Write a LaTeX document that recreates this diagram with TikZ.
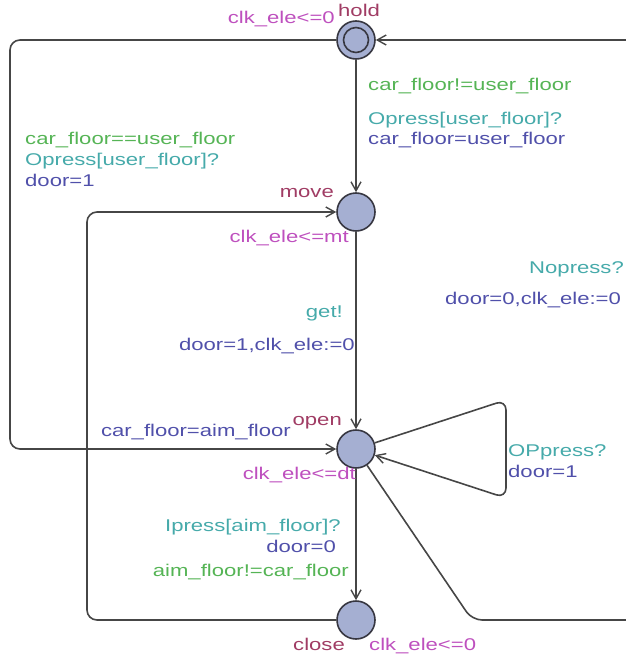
\documentclass[tikz,border=0pt]{standalone}
\usepackage{fontspec}
\setmainfont[FakeStretch=1.3]{Liberation Sans}
\usetikzlibrary{arrows.meta}
\definecolor{gcol}{RGB}{85,180,85}
\definecolor{scol}{RGB}{70,170,170}
\definecolor{ucol}{RGB}{80,80,170}
\definecolor{icol}{RGB}{190,80,190}
\definecolor{ncol}{RGB}{160,60,100}
\definecolor{lfill}{RGB}{165,175,210}
\definecolor{lborder}{RGB}{55,55,65}
\definecolor{ecol}{RGB}{70,70,70}
\tikzset{
  loc/.style={circle,draw=lborder,fill=lfill,line width=1.6pt,minimum size=38pt,inner sep=0pt},
  edge/.style={draw=ecol,line width=1.6pt,rounded corners=10pt,-{Straight Barb[length=9pt,width=10pt,line width=1.4pt]}},
  lbl/.style={inner sep=0pt,font=\fontsize{17}{20}\selectfont,text height=12pt,text depth=4pt},
  guard/.style={lbl,text=gcol},
  sync/.style={lbl,text=scol},
  upd/.style={lbl,text=ucol},
  inv/.style={lbl,text=icol},
  lname/.style={lbl,text=ncol},
}
\begin{document}
\begin{tikzpicture}[x=1pt,y=-1pt]
\useasboundingbox (0,0) rectangle (626,661);
\clip (0,0) rectangle (626,661);
% locations
\node[loc] (hold) at (356,40) {};
\draw[lborder,line width=1.6pt] (hold.center) circle (12.5pt);
\node[loc] (move) at (356,212) {};
\node[loc] (open) at (356,449) {};
\node[loc] (close) at (356,620) {};
% corner coordinates
\coordinate (hl1) at (10,40);
\coordinate (hl2) at (10,449);
\coordinate (cl1) at (87,620);
\coordinate (cl2) at (87,212);
\coordinate (sl1) at (506,400);
\coordinate (sl2) at (506,498);
\coordinate (or1) at (472,620);
\coordinate (or2) at (645,620);
\coordinate (or3) at (645,40);
% edges
\draw[edge] (hold) -- (move);
\draw[edge] (hold.west) -- (hl1) -- (hl2) -- (open.west);
\draw[edge] (move) -- (open);
\draw[edge] (open) -- (close);
\draw[edge] (close.west) -- (cl1) -- (cl2) -- (move.west);
\draw[edge] (open) -- (sl1) -- (sl2) -- (open);
\draw[edge] (open) -- (or1) -- (or2) -- (or3) -- (hold.east);
% location names and invariants
\node[lname,anchor=west] (nhold) at (338,13) {hold};
\node[inv,anchor=east] (ihold) at (335,20) {clk\_ele<=0};
\node[lname,anchor=east] (nmove) at (334,193) {move};
\node[inv,anchor=east] (imove) at (349,238) {clk\_ele<=mt};
\node[lname,anchor=east] (nopen) at (342,421) {open};
\node[inv,anchor=east] (iopen) at (356,475) {clk\_ele<=dt};
\node[lname,anchor=east] (nclose) at (345,646) {close};
\node[inv,anchor=west] (iclose) at (369,646) {clk\_ele<=0};
% hold -> move
\node[guard,anchor=west] (g1) at (368,86) {car\_floor!=user\_floor};
\node[sync,anchor=west] (s1) at (368,120) {Opress[user\_floor]?};
\node[upd,anchor=west] (u1) at (368,140) {car\_floor=user\_floor};
% hold -> open (left)
\node[guard,anchor=west] (g2) at (25,140) {car\_floor==user\_floor};
\node[sync,anchor=west] (s2) at (25,161) {Opress[user\_floor]?};
\node[upd,anchor=west] (u2) at (25,182) {door=1};
% open -> hold (right)
\node[sync,anchor=east] (s3) at (624,269) {Nopress?};
\node[upd,anchor=west] (u3) at (445,300) {door=0,clk\_ele:=0};
% move -> open
\node[sync,anchor=east] (s4) at (343,313) {get!};
\node[upd,anchor=east] (u4) at (355,346) {door=1,clk\_ele:=0};
\node[upd,anchor=east] (u5) at (291,432) {car\_floor=aim\_floor};
% self loop
\node[sync,anchor=west] (s6) at (508,452) {OPpress?};
\node[upd,anchor=west] (u6) at (508,473) {door=1};
% open -> close
\node[sync,anchor=east] (s7) at (341,527) {Ipress[aim\_floor]?};
\node[upd,anchor=east] (u7) at (336,548) {door=0};
\node[guard,anchor=east] (g7) at (349,572) {aim\_floor!=car\_floor};
\end{tikzpicture}
\end{document}
